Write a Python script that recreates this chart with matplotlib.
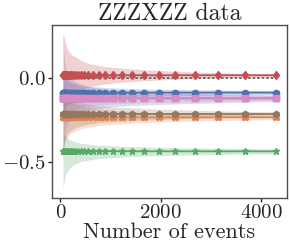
import matplotlib
matplotlib.use("Agg")
import matplotlib.pyplot as plt
from matplotlib.ticker import FuncFormatter, MultipleLocator
import seaborn as sns

# number of events at each estimate
n_events = [53, 62, 73, 85, 99, 116, 136, 159, 186, 218, 255, 298, 349, 408, 477,
            559, 654, 765, 895, 1047, 1225, 1433, 1676, 1961, 2295, 2685, 3141, 3675, 4300]

# estimates (mean) per series
y_red = [0.015, 0.016, 0.016, 0.017, 0.016, 0.016, 0.016, 0.016, 0.016, 0.016, 0.016, 0.016, 0.016, 0.016, 0.016,
         0.016, 0.016, 0.016, 0.016, 0.016, 0.016, 0.016, 0.016, 0.016, 0.016, 0.016, 0.016, 0.016, 0.016]
y_gray = [-0.002] * 29
y_blue = [-0.087, -0.087, -0.088, -0.087, -0.087, -0.087, -0.087, -0.087, -0.087, -0.087, -0.087, -0.087, -0.087, -0.087, -0.087,
          -0.087, -0.087, -0.087, -0.087, -0.087, -0.087, -0.087, -0.087, -0.087, -0.087, -0.087, -0.087, -0.087, -0.087]
y_purple = [-0.122, -0.121, -0.121, -0.121, -0.121, -0.121, -0.121, -0.121, -0.121, -0.121, -0.121, -0.121, -0.121, -0.121, -0.121,
            -0.121, -0.121, -0.121, -0.121, -0.121, -0.121, -0.121, -0.121, -0.121, -0.121, -0.121, -0.121, -0.121, -0.121]
y_pink = [-0.118, -0.118, -0.118, -0.118, -0.118, -0.118, -0.118, -0.118, -0.118, -0.118, -0.118, -0.118, -0.118, -0.118, -0.118,
          -0.118, -0.118, -0.118, -0.118, -0.118, -0.118, -0.118, -0.118, -0.118, -0.118, -0.118, -0.118, -0.118, -0.118]
y_brown = [-0.216, -0.216, -0.216, -0.216, -0.216, -0.216, -0.216, -0.216, -0.216, -0.216, -0.216, -0.216, -0.216, -0.216, -0.216,
           -0.216, -0.216, -0.216, -0.216, -0.216, -0.216, -0.216, -0.216, -0.216, -0.216, -0.216, -0.216, -0.216, -0.216]
y_orange = [-0.235, -0.235, -0.234, -0.234, -0.234, -0.234, -0.234, -0.234, -0.234, -0.234, -0.234, -0.234, -0.234, -0.234, -0.234,
            -0.234, -0.234, -0.234, -0.234, -0.234, -0.234, -0.234, -0.234, -0.234, -0.234, -0.234, -0.234, -0.234, -0.234]
y_green = [-0.437, -0.436, -0.436, -0.436, -0.436, -0.436, -0.436, -0.436, -0.436, -0.436, -0.436, -0.436, -0.436, -0.436, -0.436,
           -0.436, -0.436, -0.436, -0.436, -0.436, -0.436, -0.436, -0.436, -0.436, -0.436, -0.436, -0.436, -0.436, -0.436]

# band half widths
err_red = [0.25, 0.24, 0.23, 0.22, 0.2, 0.18, 0.16, 0.145, 0.135, 0.125, 0.115, 0.11, 0.1, 0.09, 0.08,
           0.07, 0.064, 0.058, 0.052, 0.047, 0.042, 0.038, 0.033, 0.028, 0.024, 0.019, 0.015, 0.011, 0.008]
err_blue = [0.123, 0.114, 0.105, 0.097, 0.09, 0.084, 0.077, 0.071, 0.066, 0.061, 0.056, 0.052, 0.048, 0.045, 0.041,
            0.038, 0.035, 0.033, 0.03, 0.028, 0.026, 0.024, 0.022, 0.02, 0.019, 0.017, 0.015, 0.013, 0.011]
err_purple = [0.39, 0.33, 0.27, 0.22, 0.19, 0.17, 0.15, 0.14, 0.13, 0.12, 0.11, 0.1, 0.092, 0.085, 0.078,
              0.072, 0.066, 0.06, 0.055, 0.05, 0.046, 0.043, 0.04, 0.037, 0.034, 0.03, 0.027, 0.024, 0.02]
err_pink = [0.16, 0.15, 0.14, 0.13, 0.12, 0.11, 0.1, 0.095, 0.088, 0.081, 0.075, 0.069, 0.064, 0.059, 0.055,
            0.05, 0.047, 0.043, 0.04, 0.037, 0.034, 0.031, 0.029, 0.027, 0.025, 0.022, 0.02, 0.017, 0.014]
err_brown = [0.22, 0.2, 0.18, 0.165, 0.15, 0.135, 0.12, 0.11, 0.1, 0.094, 0.087, 0.081, 0.075, 0.069, 0.064,
             0.059, 0.055, 0.05, 0.047, 0.044, 0.041, 0.037, 0.034, 0.031, 0.028, 0.024, 0.02, 0.017, 0.014]
err_orange = [0.2, 0.18, 0.165, 0.15, 0.14, 0.13, 0.12, 0.11, 0.1, 0.094, 0.087, 0.081, 0.075, 0.069, 0.064,
              0.059, 0.055, 0.05, 0.046, 0.042, 0.038, 0.034, 0.031, 0.028, 0.025, 0.022, 0.019, 0.016, 0.013]
err_green_hi = [0.11, 0.105, 0.1, 0.095, 0.09, 0.085, 0.08, 0.075, 0.07, 0.065, 0.06, 0.056, 0.052, 0.048, 0.045,
                0.042, 0.039, 0.036, 0.034, 0.032, 0.03, 0.028, 0.026, 0.024, 0.022, 0.02, 0.018, 0.016, 0.014]
err_green_lo = [0.23, 0.21, 0.19, 0.17, 0.15, 0.135, 0.12, 0.11, 0.1, 0.09, 0.082, 0.075, 0.068, 0.062, 0.057,
                0.052, 0.048, 0.044, 0.04, 0.037, 0.034, 0.031, 0.028, 0.026, 0.023, 0.021, 0.019, 0.017, 0.015]

sns.set_style("ticks")
plt.rcParams["font.family"] = "serif"
plt.rcParams["font.serif"] = ["cmr10"]
plt.rcParams["mathtext.fontset"] = "cm"
plt.rcParams["axes.formatter.use_mathtext"] = True

pal = sns.color_palette("deep")
blue, orange, green, red, purple, brown, pink, gray = pal[0], pal[1], pal[2], pal[3], pal[4], pal[5], pal[6], pal[7]

fig = plt.figure(figsize=(2.91, 2.52), dpi=100)
ax = fig.add_axes([0.18, 0.214, 0.805, 0.687])

series = [
    (y_red, err_red, err_red, red, "d"),
    (y_blue, err_blue, err_blue, blue, "o"),
    (y_pink, err_pink, err_pink, pink, "s"),
    (y_orange, err_orange, err_orange, orange, "X"),
    (y_brown, err_brown, err_brown, brown, "h"),
    (y_green, err_green_lo, err_green_hi, green, "*"),
    (y_purple, err_purple, err_purple, purple, "s"),
]

for y, lo, hi, c, m in series:
    low = [a - b for a, b in zip(y, lo)]
    high = [a + b for a, b in zip(y, hi)]
    ax.fill_between(n_events, low, high, color=c, alpha=0.25, lw=0)

ax.plot(n_events, y_gray, color="0.4", lw=1.3, ls=(0, (1.5, 1)), zorder=3)
for y, lo, hi, c, m in series[:-1]:
    ax.plot(n_events, y, color=c, lw=1.3, marker=m, ms=4.5, zorder=4)
# purple sits under the pink markers
ax.plot(n_events, y_purple, color=purple, lw=1.3, marker="s", ms=4.5, zorder=3.5)

ax.xaxis.set_major_locator(MultipleLocator(2000))
ax.yaxis.set_major_locator(MultipleLocator(0.5))
ax.xaxis.set_major_formatter(FuncFormatter(lambda v, p: "$%d$" % v))
ax.yaxis.set_major_formatter(FuncFormatter(lambda v, p: "$%.1f$" % v))
ax.tick_params(labelsize=15, length=3, width=1, color="0.15", pad=1.5)
for s in ax.spines.values():
    s.set_color("0.3")
    s.set_linewidth(1.0)

ax.set_title("ZZZXZZ data", fontsize=17, pad=2)
ax.set_xlabel("Number of events", fontsize=16, labelpad=0)

fig.savefig("out.png", dpi=100)
